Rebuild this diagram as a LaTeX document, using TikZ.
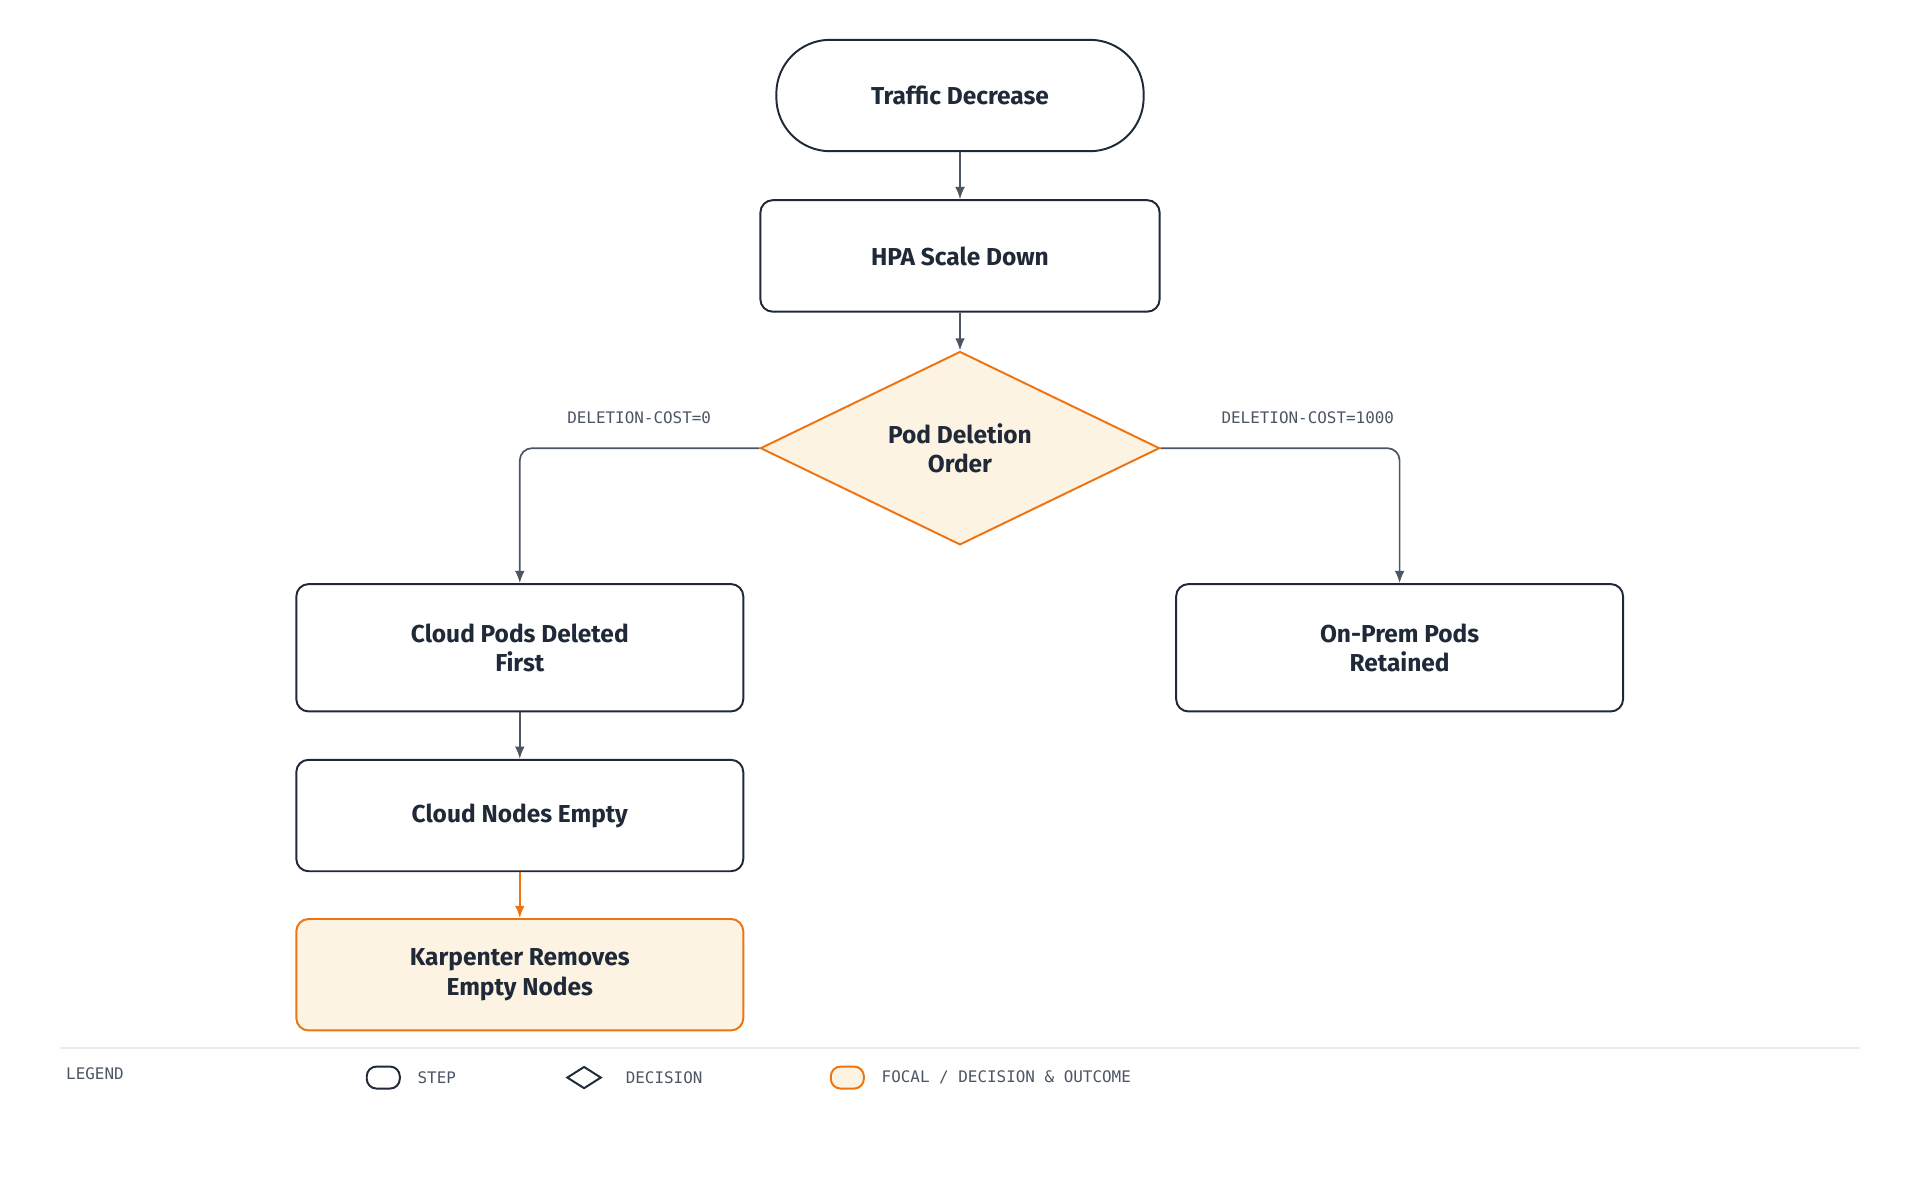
\documentclass[tikz,border=0pt]{standalone}
\usepackage{fontspec}
\setmainfont{Fira Sans}
\newfontfamily\monof{DejaVu Sans Mono}
\usetikzlibrary{shapes.geometric,arrows.meta}
\definecolor{ink}{HTML}{1F2937}
\definecolor{grayc}{HTML}{4B5563}
\definecolor{orng}{HTML}{EE7411}
\definecolor{cream}{HTML}{FDF3E3}
\tikzset{
 box/.style={draw=ink,line width=0.8pt,rounded corners=5pt,minimum width=182.5pt,minimum height=45.5pt,align=center,font=\bfseries\fontsize{10}{12}\selectfont,text=ink},
 focal/.style={box,draw=orng,fill=cream},
 stad/.style={box,rounded corners=22pt,minimum width=150pt},
 dec/.style={diamond,draw=orng,fill=cream,line width=0.8pt,minimum width=163pt,minimum height=71.5pt,align=center,font=\bfseries\fontsize{10}{12}\selectfont,text=ink,inner sep=0pt},
 conn/.style={draw=grayc,line width=0.7pt,-{Latex[length=5pt,width=4pt]},rounded corners=5pt},
 lbl/.style={font=\monof\fontsize{6.5}{8}\selectfont,text=grayc},
}
\begin{document}
\begin{tikzpicture}[x=0.5pt,y=-0.5pt]
\useasboundingbox (0,0) rectangle (1568,980);
\node[stad] (td) at (784,78) {Traffic Decrease};
\node[box,minimum width=163pt] (hpa) at (784,209) {HPA Scale Down};
\node[dec] (pd) at (784,366) {Pod Deletion\\Order};
\node[box,minimum height=52pt] (cp) at (424.5,529) {Cloud Pods Deleted\\First};
\node[box,minimum height=52pt] (op) at (1143,529) {On-Prem Pods\\Retained};
\node[box] (cn) at (424.5,666) {Cloud Nodes Empty};
\node[focal] (kr) at (424.5,796) {Karpenter Removes\\Empty Nodes};
\draw[conn] (td) -- (hpa);
\draw[conn] (hpa) -- (pd);
\draw[conn] (pd.west) -| (cp.north);
\draw[conn] (pd.east) -| (op.north);
\draw[conn] (cp) -- (cn);
\draw[conn,draw=orng,-{Latex[length=5pt,width=4pt]}] (cn) -- (kr);
\node[lbl] (l0) at (522,341) {DELETION-COST=0};
\node[lbl] (l1) at (1068,341) {DELETION-COST=1000};
\draw[draw=black!8,line width=0.8pt] (49,856) -- (1519,856);
\node[lbl,anchor=west] (lg) at (47,877) {LEGEND};
\node[draw=ink,line width=0.8pt,rounded corners=4pt,minimum width=13.5pt,minimum height=9pt,inner sep=0pt] (i1) at (313,880) {};
\node[lbl,anchor=west] (t1) at (334,880) {STEP};
\node[diamond,draw=ink,line width=0.8pt,minimum width=14pt,minimum height=9pt,inner sep=0pt] (i2) at (477,880) {};
\node[lbl,anchor=west] (t2) at (504,880) {DECISION};
\node[draw=orng,fill=cream,line width=0.8pt,rounded corners=4pt,minimum width=13.5pt,minimum height=9pt,inner sep=0pt] (i3) at (692,880) {};
\node[lbl,anchor=west] (t3) at (713,880) {FOCAL / DECISION \& OUTCOME};
\end{tikzpicture}
\end{document}
